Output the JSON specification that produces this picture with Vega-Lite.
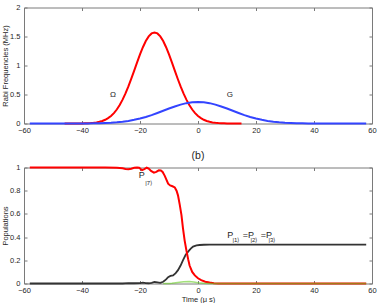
{
  "$schema": "https://vega.github.io/schema/vega-lite/v6.json",
  "padding": {"left": 1, "top": 3.5, "right": 0, "bottom": 0},
  "bounds": "flush",
  "spacing": 44,
  "config": {
    "view": {"stroke": null},
    "font": "Liberation Sans",
    "axis": {
      "grid": false,
      "labelFontSize": 7.5,
      "labelColor": "#262626",
      "titleFontSize": 7.5,
      "titleFontWeight": "normal",
      "titleColor": "#262626",
      "domainColor": "#7a7a7a",
      "tickColor": "#7a7a7a",
      "tickSize": -3,
      "labelFlush": false,
      "labelOverlap": false
    },
    "axisX": {"labelPadding": 6},
    "axisY": {"labelPadding": 7, "format": "~g"},
    "title": {"fontSize": 10.5, "fontWeight": "normal", "color": "#262626"}
  },
  "datasets": {
    "rabi": [
      {"t": -46, "v": 0, "s": "O"},
      {"t": -43, "v": 0.0003, "s": "O"}, {"t": -42, "v": 0.0005, "s": "O"}, {"t": -41, "v": 0.0009, "s": "O"},
      {"t": -40, "v": 0.0015, "s": "O"}, {"t": -39, "v": 0.0027, "s": "O"}, {"t": -38, "v": 0.0045, "s": "O"},
      {"t": -37, "v": 0.0074, "s": "O"}, {"t": -36, "v": 0.0119, "s": "O"}, {"t": -35, "v": 0.019, "s": "O"},
      {"t": -34, "v": 0.029, "s": "O"}, {"t": -33, "v": 0.043, "s": "O"}, {"t": -32, "v": 0.064, "s": "O"},
      {"t": -31, "v": 0.092, "s": "O"}, {"t": -30, "v": 0.13, "s": "O"}, {"t": -29, "v": 0.179, "s": "O"},
      {"t": -28, "v": 0.241, "s": "O"}, {"t": -27, "v": 0.318, "s": "O"}, {"t": -26, "v": 0.411, "s": "O"},
      {"t": -25, "v": 0.518, "s": "O"}, {"t": -24, "v": 0.64, "s": "O"}, {"t": -23, "v": 0.772, "s": "O"},
      {"t": -22, "v": 0.912, "s": "O"}, {"t": -21, "v": 1.053, "s": "O"}, {"t": -20, "v": 1.19, "s": "O"},
      {"t": -19, "v": 1.315, "s": "O"}, {"t": -18, "v": 1.421, "s": "O"}, {"t": -17, "v": 1.502, "s": "O"},
      {"t": -16, "v": 1.553, "s": "O"}, {"t": -15, "v": 1.57, "s": "O"}, {"t": -14, "v": 1.553, "s": "O"},
      {"t": -13, "v": 1.502, "s": "O"}, {"t": -12, "v": 1.421, "s": "O"}, {"t": -11, "v": 1.315, "s": "O"},
      {"t": -10, "v": 1.19, "s": "O"}, {"t": -9, "v": 1.053, "s": "O"}, {"t": -8, "v": 0.912, "s": "O"},
      {"t": -7, "v": 0.772, "s": "O"}, {"t": -6, "v": 0.64, "s": "O"}, {"t": -5, "v": 0.518, "s": "O"},
      {"t": -4, "v": 0.411, "s": "O"}, {"t": -3, "v": 0.318, "s": "O"}, {"t": -2, "v": 0.241, "s": "O"},
      {"t": -1, "v": 0.179, "s": "O"}, {"t": 0, "v": 0.13, "s": "O"}, {"t": 1, "v": 0.092, "s": "O"},
      {"t": 2, "v": 0.064, "s": "O"}, {"t": 3, "v": 0.043, "s": "O"}, {"t": 4, "v": 0.029, "s": "O"},
      {"t": 5, "v": 0.019, "s": "O"}, {"t": 6, "v": 0.0119, "s": "O"}, {"t": 7, "v": 0.0074, "s": "O"},
      {"t": 8, "v": 0.0045, "s": "O"}, {"t": 9, "v": 0.0027, "s": "O"}, {"t": 10, "v": 0.0015, "s": "O"},
      {"t": 12, "v": 0.0005, "s": "O"}, {"t": 15, "v": 0, "s": "O"},
      {"t": -58, "v": 0, "s": "G"}, {"t": -50, "v": 0, "s": "G"}, {"t": -44, "v": 0, "s": "G"},
      {"t": -42, "v": 0.0005, "s": "G"}, {"t": -40, "v": 0.001, "s": "G"}, {"t": -38, "v": 0.0019, "s": "G"},
      {"t": -36, "v": 0.0032, "s": "G"}, {"t": -34, "v": 0.0053, "s": "G"}, {"t": -32, "v": 0.0087, "s": "G"},
      {"t": -30, "v": 0.0137, "s": "G"}, {"t": -28, "v": 0.021, "s": "G"}, {"t": -26, "v": 0.031, "s": "G"},
      {"t": -24, "v": 0.045, "s": "G"}, {"t": -22, "v": 0.063, "s": "G"}, {"t": -20, "v": 0.086, "s": "G"},
      {"t": -18, "v": 0.113, "s": "G"}, {"t": -16, "v": 0.145, "s": "G"}, {"t": -14, "v": 0.181, "s": "G"},
      {"t": -12, "v": 0.219, "s": "G"}, {"t": -10, "v": 0.258, "s": "G"}, {"t": -8, "v": 0.294, "s": "G"},
      {"t": -6, "v": 0.326, "s": "G"}, {"t": -4, "v": 0.351, "s": "G"}, {"t": -2, "v": 0.367, "s": "G"},
      {"t": 0, "v": 0.372, "s": "G"}, {"t": 2, "v": 0.367, "s": "G"}, {"t": 4, "v": 0.351, "s": "G"},
      {"t": 6, "v": 0.326, "s": "G"}, {"t": 8, "v": 0.294, "s": "G"}, {"t": 10, "v": 0.258, "s": "G"},
      {"t": 12, "v": 0.219, "s": "G"}, {"t": 14, "v": 0.181, "s": "G"}, {"t": 16, "v": 0.145, "s": "G"},
      {"t": 18, "v": 0.113, "s": "G"}, {"t": 20, "v": 0.086, "s": "G"}, {"t": 22, "v": 0.063, "s": "G"},
      {"t": 24, "v": 0.045, "s": "G"}, {"t": 26, "v": 0.031, "s": "G"}, {"t": 28, "v": 0.021, "s": "G"},
      {"t": 30, "v": 0.0137, "s": "G"}, {"t": 32, "v": 0.0087, "s": "G"}, {"t": 34, "v": 0.0053, "s": "G"},
      {"t": 36, "v": 0.0032, "s": "G"}, {"t": 38, "v": 0.0019, "s": "G"}, {"t": 40, "v": 0.001, "s": "G"},
      {"t": 42, "v": 0.0005, "s": "G"}, {"t": 44, "v": 0, "s": "G"}, {"t": 50, "v": 0, "s": "G"},
      {"t": 58, "v": 0, "s": "G"}
    ],
    "rabiLabels": [
      {"t": -29.3, "v": 0.49, "txt": "Ω"},
      {"t": 11, "v": 0.49, "txt": "G"}
    ],
    "pop": [
      {"t": -58, "v": 1, "s": "P7"}, {"t": -40, "v": 1, "s": "P7"}, {"t": -32, "v": 1, "s": "P7"},
      {"t": -28, "v": 0.998, "s": "P7"}, {"t": -26, "v": 0.993, "s": "P7"}, {"t": -25, "v": 0.988, "s": "P7"},
      {"t": -24, "v": 0.986, "s": "P7"}, {"t": -23, "v": 0.99, "s": "P7"}, {"t": -22, "v": 0.997, "s": "P7"},
      {"t": -21, "v": 1.0, "s": "P7"}, {"t": -20.3, "v": 0.998, "s": "P7"}, {"t": -19.3, "v": 0.977, "s": "P7"},
      {"t": -18.5, "v": 0.986, "s": "P7"}, {"t": -17.7, "v": 0.998, "s": "P7"}, {"t": -17, "v": 0.99, "s": "P7"},
      {"t": -16.2, "v": 0.97, "s": "P7"}, {"t": -15.2, "v": 0.955, "s": "P7"}, {"t": -14.4, "v": 0.962, "s": "P7"},
      {"t": -13.5, "v": 0.976, "s": "P7"}, {"t": -12.8, "v": 0.975, "s": "P7"}, {"t": -12.2, "v": 0.962, "s": "P7"},
      {"t": -11.5, "v": 0.93, "s": "P7"}, {"t": -10.9, "v": 0.895, "s": "P7"}, {"t": -10.3, "v": 0.86, "s": "P7"},
      {"t": -9.6, "v": 0.845, "s": "P7"}, {"t": -8.8, "v": 0.838, "s": "P7"}, {"t": -8.0, "v": 0.828, "s": "P7"},
      {"t": -7.4, "v": 0.8, "s": "P7"}, {"t": -6.9, "v": 0.76, "s": "P7"}, {"t": -6.3, "v": 0.68, "s": "P7"},
      {"t": -5.7, "v": 0.59, "s": "P7"}, {"t": -5.2, "v": 0.48, "s": "P7"}, {"t": -4.6, "v": 0.37, "s": "P7"},
      {"t": -4.0, "v": 0.285, "s": "P7"}, {"t": -3.4, "v": 0.21, "s": "P7"}, {"t": -2.9, "v": 0.155, "s": "P7"},
      {"t": -2.0, "v": 0.1, "s": "P7"}, {"t": -1.1, "v": 0.07, "s": "P7"}, {"t": 0, "v": 0.045, "s": "P7"},
      {"t": 1.1, "v": 0.029, "s": "P7"}, {"t": 2.5, "v": 0.015, "s": "P7"}, {"t": 4.0, "v": 0.008, "s": "P7"},
      {"t": 5.5, "v": 0.003, "s": "P7"}, {"t": 7, "v": 0, "s": "P7"}, {"t": 58, "v": 0, "s": "P7"},
      {"t": -58, "v": 0, "s": "P123"}, {"t": -26, "v": 0, "s": "P123"}, {"t": -24, "v": 0.004, "s": "P123"},
      {"t": -22, "v": 0.002, "s": "P123"}, {"t": -20, "v": 0.003, "s": "P123"}, {"t": -19, "v": 0.008, "s": "P123"},
      {"t": -18, "v": 0.004, "s": "P123"}, {"t": -17, "v": 0.002, "s": "P123"}, {"t": -16, "v": 0.006, "s": "P123"},
      {"t": -15, "v": 0.013, "s": "P123"}, {"t": -14, "v": 0.01, "s": "P123"}, {"t": -13, "v": 0.006, "s": "P123"},
      {"t": -12, "v": 0.015, "s": "P123"}, {"t": -11, "v": 0.035, "s": "P123"}, {"t": -10.3, "v": 0.055, "s": "P123"},
      {"t": -9.5, "v": 0.065, "s": "P123"}, {"t": -8.6, "v": 0.07, "s": "P123"}, {"t": -7.7, "v": 0.09, "s": "P123"},
      {"t": -6.9, "v": 0.115, "s": "P123"}, {"t": -6.0, "v": 0.155, "s": "P123"}, {"t": -5.2, "v": 0.2, "s": "P123"},
      {"t": -4.3, "v": 0.245, "s": "P123"}, {"t": -3.4, "v": 0.275, "s": "P123"}, {"t": -2.5, "v": 0.3, "s": "P123"},
      {"t": -1.7, "v": 0.318, "s": "P123"}, {"t": -0.5, "v": 0.328, "s": "P123"}, {"t": 0.6, "v": 0.332, "s": "P123"},
      {"t": 2, "v": 0.334, "s": "P123"}, {"t": 4, "v": 0.335, "s": "P123"}, {"t": 7, "v": 0.335, "s": "P123"},
      {"t": 58, "v": 0.335, "s": "P123"},
      {"t": -12, "v": 0, "s": "Pg"}, {"t": -10, "v": 0, "s": "Pg"}, {"t": -9, "v": 0.002, "s": "Pg"},
      {"t": -7, "v": 0.008, "s": "Pg"}, {"t": -5, "v": 0.015, "s": "Pg"}, {"t": -3, "v": 0.017, "s": "Pg"},
      {"t": -1.5, "v": 0.012, "s": "Pg"}, {"t": 0, "v": 0.006, "s": "Pg"}, {"t": 2, "v": 0.002, "s": "Pg"},
      {"t": 4, "v": 0, "s": "Pg"}, {"t": 58, "v": 0, "s": "Pg"}
    ],
    "popMain": [
      {"t": -20.4, "v": 0.934, "txt": "P"},
      {"t": 10.1, "v": 0.416, "txt": "P"},
      {"t": 15.4, "v": 0.416, "txt": "=P"},
      {"t": 21.6, "v": 0.416, "txt": "=P"}
    ],
    "popSub": [
      {"t": -18.2, "v": 0.869, "txt": "|7⟩"},
      {"t": 11.9, "v": 0.379, "txt": "|1⟩"},
      {"t": 18.1, "v": 0.379, "txt": "|2⟩"},
      {"t": 24.3, "v": 0.379, "txt": "|3⟩"}
    ]
  },
  "vconcat": [
    {
      "width": 348,
      "height": 116,
      "layer": [
        {
          "data": {"name": "rabi"},
          "transform": [{"filter": "datum.s === 'O'"}],
          "mark": {"type": "line", "color": "#ff0000", "strokeWidth": 2},
          "encoding": {
            "x": {"field": "t", "type": "quantitative", "scale": {"domain": [-60, 60], "nice": false},
                  "axis": {"values": [-60, -40, -20, 0, 20, 40, 60], "title": null, "orient": "bottom"}},
            "y": {"field": "v", "type": "quantitative", "scale": {"domain": [0, 2], "nice": false},
                  "axis": {"values": [0, 0.5, 1, 1.5, 2], "title": "Rabi Frequencies (MHz)", "orient": "left", "titlePadding": 0}}
          }
        },
        {
          "data": {"name": "rabi"},
          "transform": [{"filter": "datum.s === 'G'"}],
          "mark": {"type": "line", "color": "#3344ff", "strokeWidth": 2},
          "encoding": {
            "x": {"field": "t", "type": "quantitative", "axis": null},
            "y": {"field": "v", "type": "quantitative", "axis": null}
          }
        },
        {
          "data": {"name": "rabiLabels"},
          "mark": {"type": "text", "fontSize": 8, "color": "#262626", "align": "center", "baseline": "middle"},
          "encoding": {
            "x": {"field": "t", "type": "quantitative",
                  "axis": {"orient": "top", "labels": false, "title": null, "values": [-60, -40, -20, 0, 20, 40, 60]}},
            "y": {"field": "v", "type": "quantitative",
                  "axis": {"orient": "right", "labels": false, "title": null, "values": [0, 0.5, 1, 1.5, 2]}},
            "text": {"field": "txt"}
          }
        }
      ],
      "resolve": {"axis": {"x": "independent", "y": "independent"}}
    },
    {
      "width": 348,
      "height": 116,
      "title": {"text": "(b)", "offset": 2},
      "layer": [
        {
          "data": {"name": "pop"},
          "transform": [{"filter": "datum.s === 'P123'"}],
          "mark": {"type": "line", "color": "#333333", "strokeWidth": 1.8},
          "encoding": {
            "x": {"field": "t", "type": "quantitative", "scale": {"domain": [-60, 60], "nice": false},
                  "axis": {"values": [-60, -40, -20, 0, 20, 40, 60], "title": "Time (μ s)", "orient": "bottom", "titlePadding": 1}},
            "y": {"field": "v", "type": "quantitative", "scale": {"domain": [0, 1], "nice": false},
                  "axis": {"values": [0, 0.2, 0.4, 0.6, 0.8, 1], "title": "Populations", "orient": "left", "titlePadding": 0}}
          }
        },
        {
          "data": {"name": "pop"},
          "transform": [{"filter": "datum.s === 'P7'"}],
          "mark": {"type": "line", "color": "#ff0000", "strokeWidth": 2},
          "encoding": {
            "x": {"field": "t", "type": "quantitative", "axis": null},
            "y": {"field": "v", "type": "quantitative", "axis": null}
          }
        },
        {
          "data": {"name": "pop"},
          "transform": [{"filter": "datum.s === 'Pg'"}],
          "mark": {"type": "line", "color": "#66cc22", "strokeWidth": 1.5, "opacity": 0.6},
          "encoding": {
            "x": {"field": "t", "type": "quantitative", "axis": null},
            "y": {"field": "v", "type": "quantitative", "axis": null}
          }
        },
        {
          "data": {"name": "popMain"},
          "mark": {"type": "text", "fontSize": 9, "color": "#262626", "align": "left", "baseline": "middle"},
          "encoding": {
            "x": {"field": "t", "type": "quantitative",
                  "axis": {"orient": "top", "labels": false, "title": null, "values": [-60, -40, -20, 0, 20, 40, 60]}},
            "y": {"field": "v", "type": "quantitative",
                  "axis": {"orient": "right", "labels": false, "title": null, "values": [0, 0.2, 0.4, 0.6, 0.8, 1]}},
            "text": {"field": "txt"}
          }
        },
        {
          "data": {"name": "popSub"},
          "mark": {"type": "text", "fontSize": 6, "color": "#262626", "align": "left", "baseline": "middle"},
          "encoding": {
            "x": {"field": "t", "type": "quantitative", "axis": null},
            "y": {"field": "v", "type": "quantitative", "axis": null},
            "text": {"field": "txt"}
          }
        }
      ],
      "resolve": {"axis": {"x": "independent", "y": "independent"}}
    }
  ]
}
